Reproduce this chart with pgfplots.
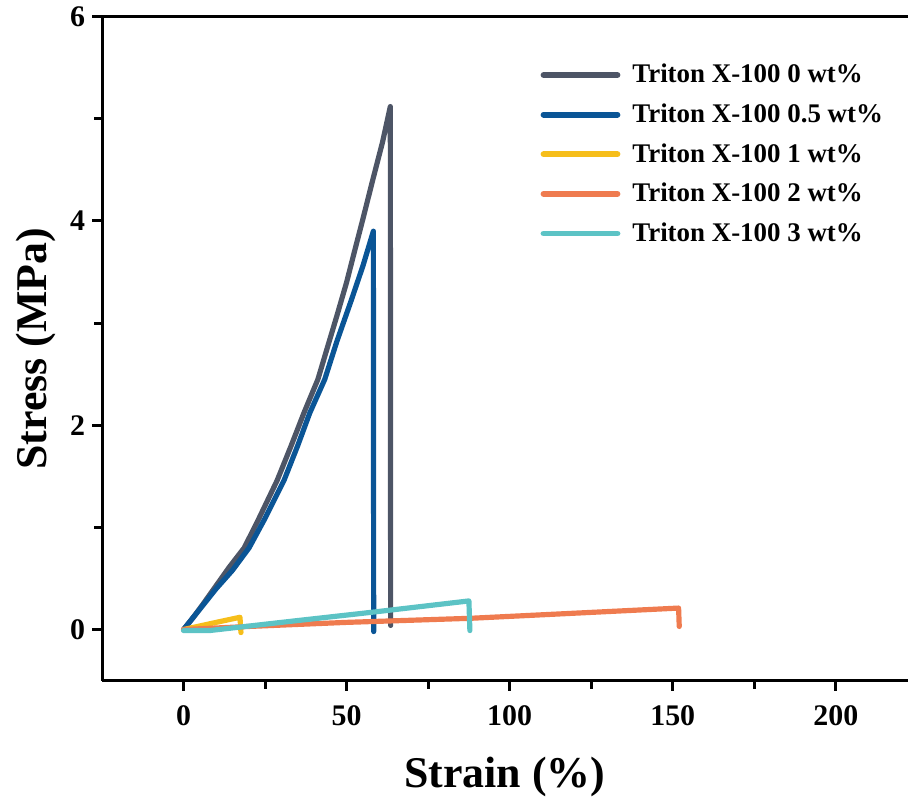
\documentclass[border={4.5pt 0pt 0pt 0pt}]{standalone}
\usepackage{pgfplots}
\pgfplotsset{compat=1.18}
\usepackage{fontspec}
\setmainfont{Liberation Serif}
\definecolor{cgray}{HTML}{4D5566}
\definecolor{cblue}{HTML}{0A5596}
\definecolor{cyellow}{HTML}{F6BE1A}
\definecolor{corange}{HTML}{EF7B4F}
\definecolor{cteal}{HTML}{5CC3C5}
\begin{document}
\begin{tikzpicture}
\begin{axis}[
  scale only axis,
  width=404pt, height=333pt,
  xmin=-25, xmax=222, ymin=-0.5, ymax=6,
  axis x line*=box, axis y line*=left,
  xtick pos=bottom, ytick pos=left,
  tick align=outside,
  xtick={0,50,100,150,200}, minor xtick={25,75,125,175},
  ytick={0,2,4,6}, minor ytick={1,3,5},
  axis line style={line width=1.5pt, black},
  every tick/.style={black, line width=1.5pt},
  major tick length=5pt, minor tick length=4pt,
  tick label style={font=\fontsize{15}{18}\selectfont\bfseries},
  xticklabel style={yshift=-4pt},
  /pgf/number format/assume math mode=true,
  xlabel={\fontsize{22}{26}\selectfont\bfseries Strain (\%)},
  ylabel={\fontsize{22}{26}\selectfont\bfseries Stress (MPa)},
  xlabel style={yshift=-9pt},
  ylabel style={yshift=0.5pt},
  legend style={draw=none, fill=none, at={(0.544,0.935)}, anchor=north west,
    font=\fontsize{13.5}{16}\selectfont\bfseries, row sep=5pt, inner sep=0pt,
    /tikz/every odd column/.append style={column sep=4pt}},
  legend cell align=left,
  legend image code/.code={\draw[#1, line width=3pt] (0pt,0pt) -- (37pt,0pt);},
  every axis plot/.append style={line width=2.6pt, line cap=round, line join=round},
]
\addplot[cgray] coordinates {(0,0) (3,0.12) (6,0.25) (10,0.43) (14,0.61) (18.6,0.80) (23,1.08) (28.7,1.46) (33,1.80) (36.9,2.12) (41.2,2.45) (44,2.75) (47,3.07) (50,3.40) (52.4,3.70) (55,4.02) (58,4.40) (61,4.77) (63.4,5.12) (63.5,0.04)};
\addlegendentry{Triton X-100 0 wt\%}
\addplot[cblue] coordinates {(0,0) (3,0.12) (6,0.24) (10,0.40) (15,0.58) (20.1,0.80) (25,1.09) (30.8,1.46) (35,1.80) (38.7,2.12) (43.3,2.45) (47,2.82) (51.5,3.23) (55,3.56) (58.2,3.90) (58.3,-0.02)};
\addlegendentry{Triton X-100 0.5 wt\%}
\addplot[cyellow] coordinates {(0,0) (10,0.07) (17.3,0.12) (17.6,-0.03)};
\addlegendentry{Triton X-100 1 wt\%}
\addplot[corange] coordinates {(0,0) (20,0.03) (50,0.07) (88,0.11) (120,0.16) (151.8,0.21) (152,0.03)};
\addlegendentry{Triton X-100 2 wt\%}
\addplot[cteal] coordinates {(0,-0.01) (8,-0.01) (30,0.07) (58,0.17) (87.5,0.28) (87.8,-0.01)};
\addlegendentry{Triton X-100 3 wt\%}
\end{axis}
\end{tikzpicture}
\end{document}
